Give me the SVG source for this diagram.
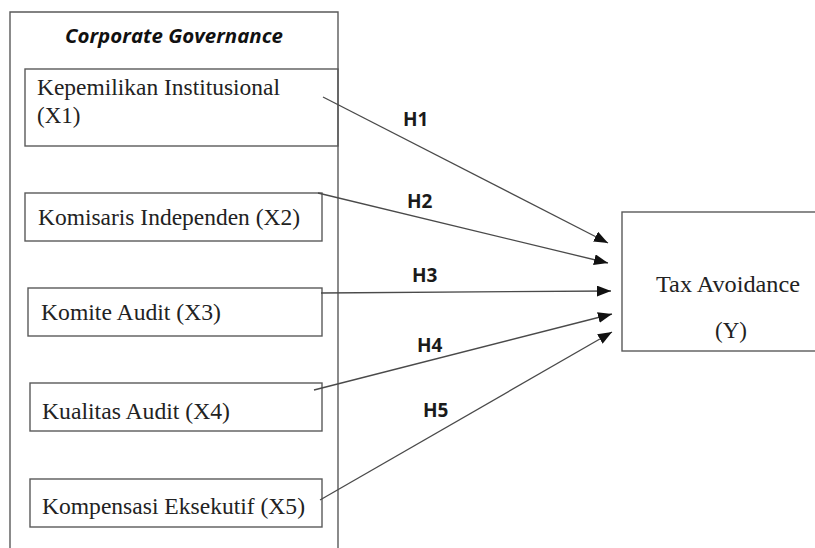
<svg xmlns="http://www.w3.org/2000/svg" width="815" height="548" viewBox="0 0 815 548">
  <defs>
    <style>
      .box { fill: none; stroke: #5a5a5a; stroke-width: 1.4; }
      .t { font-family: "Liberation Serif", "Times New Roman", serif; font-size: 23px; fill: #222; }
      .h { font-family: "Open Sans", "Liberation Sans", sans-serif; font-weight: bold; font-size: 19px; fill: #1a1a1a; }
      .ttl { font-family: "Open Sans", "Liberation Sans", sans-serif; font-weight: bold; font-style: italic; font-size: 20px; fill: #111; }
      .conn { stroke: #4a4a4a; stroke-width: 1.3; fill: none; marker-end: url(#arr); }
    </style>
    <marker id="arr" viewBox="0 0 14 11" refX="14" refY="5.5" markerWidth="14" markerHeight="11" markerUnits="userSpaceOnUse" orient="auto">
      <path d="M0,0 L14,5.5 L0,11 z" fill="#111"/>
    </marker>
  </defs>

  <g id="corporate-governance">
    <path class="box" d="M10,560 V12 H338 V560"/>
    <text class="ttl" x="65" y="43" textLength="218" lengthAdjust="spacingAndGlyphs">Corporate Governance</text>
  </g>

  <g id="x1">
    <rect class="box" x="25" y="69" width="313" height="77"/>
    <text class="t" x="37" y="95" textLength="243" lengthAdjust="spacingAndGlyphs">Kepemilikan Institusional</text>
    <text class="t" x="37" y="123">(X1)</text>
  </g>

  <g id="x2">
    <rect class="box" x="25" y="193" width="297" height="48"/>
    <text class="t" x="38" y="225" textLength="262" lengthAdjust="spacingAndGlyphs">Komisaris Independen (X2)</text>
  </g>

  <g id="x3">
    <rect class="box" x="28" y="288" width="294" height="48"/>
    <text class="t" x="41" y="320" textLength="180" lengthAdjust="spacingAndGlyphs">Komite Audit (X3)</text>
  </g>

  <g id="x4">
    <rect class="box" x="30" y="383" width="292" height="48"/>
    <text class="t" x="42" y="419" textLength="188" lengthAdjust="spacingAndGlyphs">Kualitas Audit (X4)</text>
  </g>

  <g id="x5">
    <rect class="box" x="30" y="479" width="292" height="48"/>
    <text class="t" x="42" y="514" textLength="263" lengthAdjust="spacingAndGlyphs">Kompensasi Eksekutif (X5)</text>
  </g>

  <g id="y">
    <rect class="box" x="622" y="212" width="220" height="139"/>
    <text class="t" x="656" y="292" textLength="144" lengthAdjust="spacingAndGlyphs">Tax Avoidance</text>
    <text class="t" x="715" y="338">(Y)</text>
  </g>

  <g id="connectors">
    <line class="conn" x1="323" y1="97" x2="608" y2="243"/>
    <line class="conn" x1="318" y1="193" x2="608" y2="263"/>
    <line class="conn" x1="321" y1="293" x2="611" y2="291"/>
    <line class="conn" x1="314" y1="390" x2="612" y2="314"/>
    <line class="conn" x1="320" y1="500" x2="612" y2="332"/>
    <text class="h" x="403" y="126">H1</text>
    <text class="h" x="407" y="208">H2</text>
    <text class="h" x="412" y="282">H3</text>
    <text class="h" x="417" y="352">H4</text>
    <text class="h" x="423" y="417">H5</text>
  </g>
</svg>
